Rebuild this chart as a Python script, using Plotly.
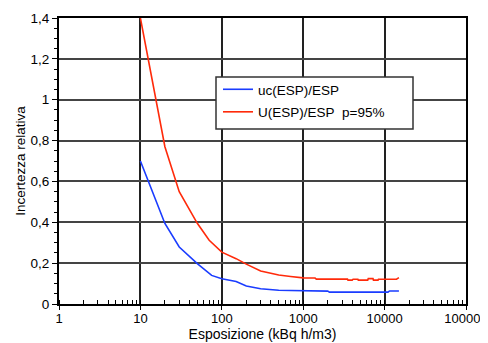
import plotly.graph_objects as go

# Data
x_uc = [10, 20, 30, 50, 75, 100, 150, 200, 300, 400, 500, 700, 900, 1000, 2000, 2100, 5000, 11000, 11500, 15000]
uc = [0.70, 0.394, 0.279, 0.198, 0.14, 0.124, 0.11, 0.088, 0.075, 0.069, 0.067, 0.066, 0.065, 0.063, 0.063, 0.058, 0.058, 0.058, 0.064, 0.064]

x_U = [10, 20, 30, 40, 50, 70, 85, 100, 150, 200, 300, 500, 700, 1000, 1400, 1450, 3500, 3550, 4000, 4100, 4700, 4750, 6200, 6300, 7200, 7300, 8300, 8400, 14000, 15000]
U = [1.40, 0.77, 0.55, 0.46, 0.395, 0.312, 0.279, 0.254, 0.222, 0.195, 0.162, 0.142, 0.135, 0.128, 0.127, 0.122, 0.122, 0.117, 0.117, 0.121, 0.121, 0.117, 0.117, 0.124, 0.124, 0.117, 0.117, 0.121, 0.122, 0.129]

name_uc = "uc(ESP)/ESP"
name_U = "U(ESP)/ESP\u00a0\u00a0p=95%"
x_title = "Esposizione (kBq h/m3)"
y_title = "Incertezza relativa"

fig = go.Figure()
fig.add_trace(go.Scatter(x=x_uc, y=uc, mode="lines", name=name_uc,
                         line=dict(color="#1a3cff", width=1.6), legendgroup="a"))
fig.add_trace(go.Scatter(x=x_U, y=U, mode="lines", name=name_U,
                         line=dict(color="#ff2a0a", width=1.6), legendgroup="b"))

font = "Liberation Sans, Arial, Helvetica, sans-serif"

# the page body adds an 8px offset; margins compensate so the plot area
# lands at x 59..466, y 18..304 in the window
PW, PH = 407.0, 286.0

def px(xs):
    return (xs - 59) / PW

def py(ys):
    return (304 - ys) / PH

fig.update_layout(
    width=488, height=343,
    margin=dict(l=51, r=30, t=10, b=47, autoexpand=False),
    paper_bgcolor="white", plot_bgcolor="white",
    separators=",.",
    font=dict(family=font, size=13, color="black"),
    showlegend=True,
    legend=dict(x=px(218), y=py(74), xanchor="left", yanchor="top",
                bgcolor="rgba(0,0,0,0)", borderwidth=0,
                font=dict(size=13.5), itemwidth=30, tracegroupgap=2),
    shapes=[dict(type="rect", xref="paper", yref="paper",
                 x0=px(216), x1=px(413), y0=py(129), y1=py(77),
                 fillcolor="white", line=dict(color="#333333", width=1.5),
                 layer="above")],
)

fig.update_xaxes(
    type="log", range=[0, 5], dtick=1, tickformat="d", automargin=False,
    showline=True, linecolor="black", linewidth=2, mirror=True,
    showgrid=True, gridcolor="#222222", gridwidth=1.5,
    ticks="outside", ticklen=4, tickcolor="black", tickwidth=1,
    ticklabelstandoff=-3,
    tickfont=dict(size=13),
    minor=dict(ticks="inside", ticklen=4, dtick="D1", tickcolor="black", showgrid=False),
    title=dict(text=x_title, standoff=0, font=dict(size=14)),
    zeroline=False,
)
fig.update_yaxes(
    range=[0, 1.4], dtick=0.2, automargin=False,
    showline=True, linecolor="black", linewidth=2, mirror=True,
    showgrid=True, gridcolor="#444444", gridwidth=1.5,
    ticks="outside", ticklen=5, tickcolor="black", tickwidth=1,
    tickfont=dict(size=13.5),
    minor=dict(ticks="outside", ticklen=3, dtick=0.05, tickcolor="black", showgrid=False),
    title=dict(text=y_title, standoff=2, font=dict(size=13.5)),
    zeroline=False,
)

fig.write_html("out.html")
